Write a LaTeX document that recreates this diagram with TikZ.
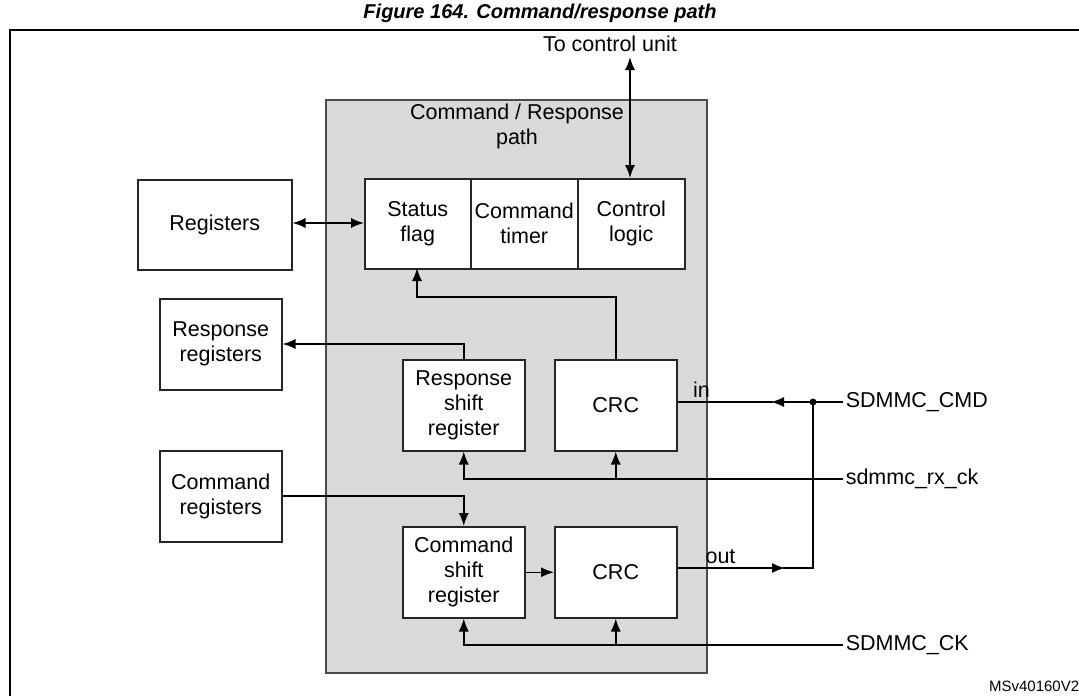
\documentclass[tikz,border=0pt]{standalone}
\usepackage{fontspec}
\setmainfont{Liberation Sans}
\usetikzlibrary{arrows.meta,positioning,calc}
\definecolor{pathgray}{RGB}{217,217,217}
\begin{document}
\begin{tikzpicture}[
    x=1pt, y=-1pt,
    font=\fontsize{21.5}{25}\selectfont,
    >={Latex[length=13pt,width=10pt]},
    line width=1.5pt,
    % --- node styles ---
    block/.style = {rectangle, draw=black!85, fill=white, align=center,
                    inner sep=0pt, anchor=north west},
    arrow/.style = {->},
    darrow/.style = {<->},
    sig/.style = {anchor=west, inner sep=2pt},
]
\useasboundingbox (0,0) rectangle (1079,696);

% title and frame
\node (title) at (540,13) {\fontsize{20}{22}\selectfont\bfseries\itshape Figure 164. Command/response path};
\draw[line width=2pt] (10,30) rectangle (1090,706);

%============ COMMAND / RESPONSE PATH ============
\draw[draw=black!70, fill=pathgray] (326,100) rectangle (707,673);
\node (pathlbl) [align=center] at (517,126) {Command / Response\\path};

\node (status) [block, minimum width=106pt, minimum height=90pt] at (364,178) {Status\\flag};
\node (timer) [block, minimum width=107pt, minimum height=90pt] at (470,178) {Command\\timer};
\node (ctrl) [block, minimum width=107pt, minimum height=90pt] at (577,178) {Control\\logic};

\node (rshift) [block, minimum width=122pt, minimum height=91pt] at (402,359) {Response\\shift\\register};
\node (rcrc) [block, minimum width=122pt, minimum height=91pt] at (554,359) {CRC};
\node (cshift) [block, minimum width=122pt, minimum height=91pt] at (402,526) {Command\\shift\\register};
\node (ccrc) [block, minimum width=122pt, minimum height=91pt] at (554,526) {CRC};

%============ OUTSIDE BLOCKS ============
\node (regs) [block, minimum width=154pt, minimum height=90pt] at (137,179) {Registers};
\node (rregs) [block, minimum width=122pt, minimum height=91pt] at (159,298) {Response\\registers};
\node (cregs) [block, minimum width=122pt, minimum height=91pt] at (159,450) {Command\\registers};

\node (unit) at (610,44) {To control unit};
\coordinate (unitend) at (630,57);

% signals
\node (cmd) [sig] at (843,402) {SDMMC\_CMD};
\node (rxck) [sig] at (843,479) {sdmmc\_rx\_ck};
\node (ck) [sig] at (843,645) {SDMMC\_CK};
\node (ver) [font=\fontsize{15}{17}\selectfont, anchor=west] at (985,686) {MSv40160V2};
\coordinate (dot) at (813,402);

%============ ARROWS ============
\draw[darrow] (unitend) -- (630,178);
\draw[darrow] (regs.east |- 0,223) -- (status.west |- 0,223);
\draw[arrow] (rshift.north) |- (rregs.east |- 0,344);
\draw[arrow] (rcrc.north) |- (417,297) -- (417,268);
\draw[arrow] (cregs.east |- 0,496) -| (cshift.north);
\draw[arrow] (cshift) -- (ccrc);

% in / out
\draw (cmd.west) -- (dot);
\draw[arrow] (dot) -- (771,402);
\draw (773,402) -- node[above, pos=0.75] {in} (rcrc.east |- 0,402);
\draw[arrow] (ccrc.east |- 0,568) -- node[above, pos=0.4] {out} (785,568);
\draw (783,568) -| (dot);
\fill (dot) circle (3.5pt);

% clocks
\draw (rxck.west) -- (rcrc.south |- 0,479);
\draw[arrow] (rcrc.south |- 0,479) -- (rcrc.south);
\draw[arrow] (rcrc.south |- 0,479) -| (rshift.south);
\draw (ck.west) -- (ccrc.south |- 0,645);
\draw[arrow] (ccrc.south |- 0,645) -- (ccrc.south);
\draw[arrow] (ccrc.south |- 0,645) -| (cshift.south);
\end{tikzpicture}
\end{document}
